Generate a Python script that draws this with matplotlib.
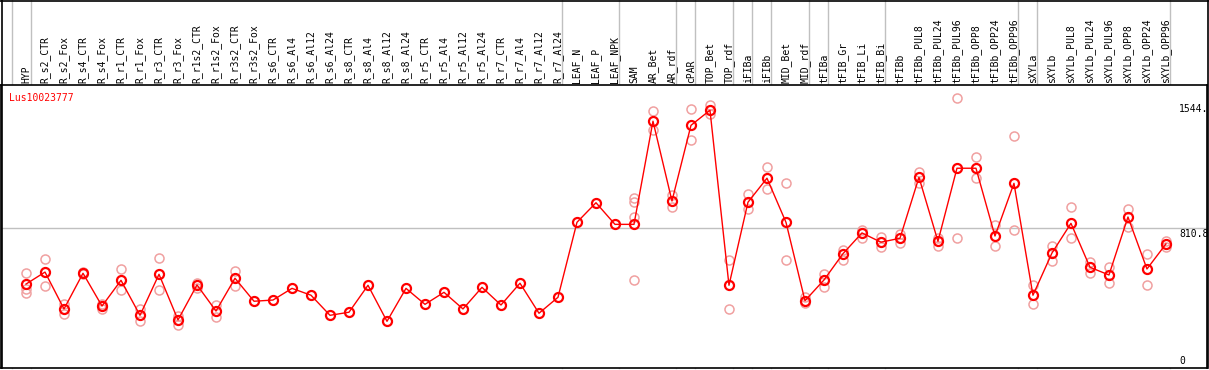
import matplotlib
matplotlib.use('Agg')
import matplotlib.pyplot as plt
from matplotlib.transforms import blended_transform_factory, offset_copy
from matplotlib.lines import Line2D

samples = ["HYP", "R_s2_CTR", "R_s2_Fox", "R_s4_CTR", "R_s4_Fox", "R_r1_CTR", "R_r1_Fox",
           "R_r3_CTR", "R_r3_Fox", "R_r1s2_CTR", "R_r1s2_Fox", "R_r3s2_CTR", "R_r3s2_Fox",
           "R_s6_CTR", "R_s6_Al4", "R_s6_Al12", "R_s6_Al24", "R_s8_CTR", "R_s8_Al4",
           "R_s8_Al12", "R_s8_Al24", "R_r5_CTR", "R_r5_Al4", "R_r5_Al12", "R_r5_Al24",
           "R_r7_CTR", "R_r7_Al4", "R_r7_Al12", "R_r7_Al24", "LEAF_N", "LEAF_P", "LEAF_NPK",
           "SAM", "AR_Bet", "AR_rdf", "cPAR", "TOP_Bet", "TOP_rdf", "iFIBa", "iFIBb",
           "MID_Bet", "MID_rdf", "tFIBa", "tFIB_Gr", "tFIB_Li", "tFIB_Bi", "tFIBb",
           "tFIBb_PUL8", "tFIBb_PUL24", "tFIBb_PUL96", "tFIBb_OPP8", "tFIBb_OPP24",
           "tFIBb_OPP96", "sXYLa", "sXYLb", "sXYLb_PUL8", "sXYLb_PUL24", "sXYLb_PUL96",
           "sXYLb_OPP8", "sXYLb_OPP24", "sXYLb_OPP96"]

means = [486, 556, 341, 549, 358, 508, 304, 543, 277, 481, 329, 520, 386,
         393, 461, 421, 304, 322, 479, 269, 461, 368, 438, 341, 467,
         364, 491, 316, 409, 846, 960, 834,
         834, 1435, 970, 1411, 1499, 479, 963, 1103, 846, 389, 510, 663, 784, 730, 753,
         1108, 735, 1161, 1161, 766, 1073,
         421, 667, 840, 584, 539, 877, 574, 720]

replicates = [[549, 456, 436], [630, 473], [368, 314], [556, 543], [368, 343],
              [572, 452], [343, 269], [636, 450], [300, 248], [494, 461], [366, 293],
              [562, 477], [], [], [], [], [], [], [], [], [], [], [], [], [], [], [], [], [],
              [], [], [],
              [986, 966, 879, 508], [1493, 1384], [1005, 934], [1506, 1324], [1528, 1476],
              [626, 341], [1009, 922], [1167, 1038], [1073, 624], [409, 374], [545, 471],
              [683, 624], [803, 753], [762, 704], [776, 727],
              [1141, 1073], [756, 710], [1569, 753], [1225, 1103], [830, 706], [1349, 800],
              [481, 368], [708, 621], [934, 753], [615, 549], [584, 491], [924, 821],
              [661, 481], [739, 704]]

group_ends = [0, 1, 29, 32, 35, 36, 38, 39, 40, 42, 43, 46, 53, 54, 61]
gene = "Lus10023777"
y_ticks = [0, 810.8, 1544]
y_tick_labels = ["0", "810.8", "1544."]

W, H = 1209, 370
fig = plt.figure(figsize=(W / 100, H / 100), dpi=100)
ax = fig.add_axes([1 / W, 2 / H, 1206 / W, 283 / H])
ax.set_xlim(-1.316, 62.16)
ax.set_ylim(-3, 1646)
ax.set_xticks([])
ax.set_yticks([])
for s in ax.spines.values():
    s.set_color('black')
    s.set_linewidth(1.2)

mono = 'DejaVu Sans Mono'
fs = 7

# gray group separators spanning full figure height
bt = blended_transform_factory(ax.transData, fig.transFigure)
for b in group_ends:
    xb = b - 1 + 0.237
    fig.add_artist(Line2D([xb, xb], [2 / H, 1], transform=bt, color='#c0c0c0', lw=1, zorder=0))

ax.axhline(y_ticks[1], color='#c0c0c0', lw=1, zorder=0)

# figure borders
fig.add_artist(Line2D([0, 1], [1 - 0.6 / H, 1 - 0.6 / H], transform=fig.transFigure, color='black', lw=1.2))
fig.add_artist(Line2D([1.5 / W, 1.5 / W], [2 / H, 1], transform=fig.transFigure, color='black', lw=1.2))
fig.add_artist(Line2D([1207.5 / W, 1207.5 / W], [2 / H, 1], transform=fig.transFigure, color='black', lw=1.2))

xs = list(range(len(samples)))
for i, reps in enumerate(replicates):
    if reps:
        ax.plot([i] * len(reps), reps, linestyle='none', marker='o', markersize=6.5,
                markerfacecolor='none', markeredgecolor='#f0a0a0', markeredgewidth=1.1, zorder=2)

ax.plot(xs, means, color='#ff0000', lw=1, zorder=3)
ax.plot(xs, means, linestyle='none', marker='o', markersize=6.5, markerfacecolor='none',
        markeredgecolor='#ff0000', markeredgewidth=1.6, zorder=4)

for i, name in enumerate(samples):
    ax.text(i, 1 - 83 / H, name, transform=bt, rotation=90, ha='center', va='bottom',
            fontsize=fs, family=mono, color='black')

ax.text(8 / 1206, 1 - 8 / 283, gene, transform=ax.transAxes, ha='left', va='top',
        fontsize=fs, family=mono, color='#ff0000')

xlab = 60.68
for v, lab in zip(y_ticks, y_tick_labels):
    if v == 0:
        tr = offset_copy(ax.transData, fig=fig, x=0, y=1, units='dots')
        ax.text(xlab, v, lab, transform=tr, ha='left', va='bottom', fontsize=fs, family=mono)
    else:
        tr = offset_copy(ax.transData, fig=fig, x=0, y=-1, units='dots')
        ax.text(xlab, v, lab, transform=tr, ha='left', va='top', fontsize=fs, family=mono)

fig.savefig('out.png', dpi=100)
